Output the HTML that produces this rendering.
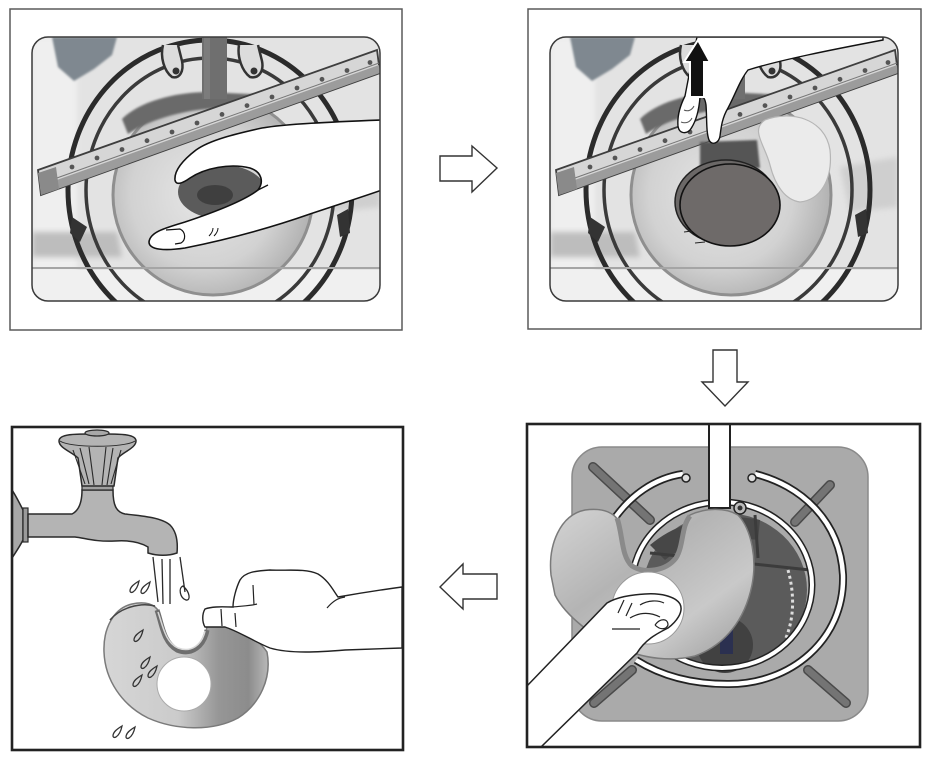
<!DOCTYPE html>
<html><head><meta charset="utf-8"><style>
html,body{margin:0;padding:0;background:#fff;width:930px;height:764px;overflow:hidden}
svg{display:block}
</style></head><body>
<svg width="930" height="764" viewBox="0 0 930 764" xmlns="http://www.w3.org/2000/svg">
<defs>
 <clipPath id="c1"><rect x="32" y="37" width="348" height="264" rx="16"/></clipPath>
 <clipPath id="c2"><rect x="550" y="37" width="348" height="264" rx="16"/></clipPath>
 <clipPath id="c3"><rect x="13" y="428" width="389" height="321"/></clipPath>
 <clipPath id="c4"><rect x="528" y="425" width="391" height="321"/></clipPath>
 <filter id="bl" x="-20%" y="-20%" width="140%" height="140%"><feGaussianBlur stdDeviation="3"/></filter>
 <filter id="bl1"><feGaussianBlur stdDeviation="1"/></filter>
 <radialGradient id="disk" cx="0.45" cy="0.5" r="0.6"><stop offset="0" stop-color="#e6e6e6"/><stop offset="0.6" stop-color="#d2d2d2"/><stop offset="1" stop-color="#a9a9a9"/></radialGradient>
 <linearGradient id="f3" x1="0" y1="0" x2="1" y2="0"><stop offset="0" stop-color="#d6d6d6"/><stop offset="0.45" stop-color="#cbcbcb"/><stop offset="0.7" stop-color="#969696"/><stop offset="0.88" stop-color="#8c8c8c"/><stop offset="1" stop-color="#b8b8b8"/></linearGradient>
 <linearGradient id="f4" x1="0" y1="0" x2="1" y2="1"><stop offset="0" stop-color="#d4d4d4"/><stop offset="0.4" stop-color="#b4b4b4"/><stop offset="0.7" stop-color="#c9c9c9"/><stop offset="1" stop-color="#9a9a9a"/></linearGradient>
 <g id="bg">
  <rect width="348" height="264" fill="#e3e3e3"/>
  <rect x="0" y="0" width="45" height="264" fill="#efefef" filter="url(#bl)"/>
  <rect x="0" y="233" width="348" height="31" fill="#f0f0f0"/>
  <path d="M20,0 L85,0 L80,18 L62,32 L42,44 L26,30 Z" fill="#7f8890" filter="url(#bl1)"/>
  <path d="M0,195 L85,195 L90,220 L0,220 Z" fill="#bdbdbd" filter="url(#bl)"/>
  <path d="M290,130 L348,120 L348,170 L300,175 Z" fill="#cfcfcf" filter="url(#bl)"/>
  <ellipse cx="178" cy="153" rx="142" ry="150" fill="none" stroke="#2b2b2b" stroke-width="5"/>
  <ellipse cx="178" cy="153" rx="124" ry="132" fill="none" stroke="#3a3a3a" stroke-width="3.5"/>
  <circle cx="181" cy="158" r="100" fill="url(#disk)" stroke="#8f8f8f" stroke-width="3"/>
  <path d="M90,82 C110,62 150,55 175,55 L235,58 C225,66 210,69 195,71 C160,71 122,80 96,97 Z" fill="#6a6a6a" filter="url(#bl1)"/>
  <rect x="170" y="0" width="25" height="62" fill="#6f6f6f"/>
  <rect x="172" y="0" width="6" height="62" fill="#7c7c7c"/>
  <path d="M131,8 C128,20 132,34 140,40 C148,42 152,34 150,24 L146,8" fill="#dcdcdc" stroke="#333" stroke-width="2.5"/>
  <circle cx="144" cy="34" r="3.5" fill="#333"/>
  <path d="M207,8 C205,20 210,34 218,40 C227,42 232,34 230,24 L226,8" fill="#dcdcdc" stroke="#333" stroke-width="2.5"/>
  <circle cx="222" cy="34" r="3.5" fill="#333"/>
  <line x1="0" y1="231" x2="348" y2="231" stroke="#a5a5a5" stroke-width="2"/>
  <path d="M40,180 L55,190 L48,205 L38,196 Z" fill="#333"/>
  <path d="M305,178 L316,172 L318,196 L308,200 Z" fill="#333"/>
  <path d="M6,133 L345,13 L348,36 L9,158 Z" fill="#d6d6d6" stroke="#3e3e3e" stroke-width="1.8"/>
  <path d="M8,149 L347,28 L348,36 L9,158 Z" fill="#9c9c9c"/>
  <line x1="8" y1="147" x2="347" y2="26" stroke="#777" stroke-width="1"/>
  <path d="M6,136 L24,130 L27,152 L9,158 Z" fill="#8a8a8a"/>
  <g fill="#555">
   <circle cx="40" cy="130" r="2.4"/><circle cx="65" cy="121" r="2.4"/><circle cx="90" cy="112.5" r="2.4"/><circle cx="115" cy="103.7" r="2.4"/><circle cx="140" cy="95" r="2.4"/><circle cx="165" cy="86" r="2.4"/><circle cx="190" cy="77.4" r="2.4"/><circle cx="215" cy="68.6" r="2.4"/><circle cx="240" cy="60" r="2.4"/><circle cx="265" cy="51" r="2.4"/><circle cx="290" cy="42.3" r="2.4"/><circle cx="315" cy="33.5" r="2.4"/><circle cx="338" cy="25.5" r="2.4"/>
  </g>
 </g>
 <path id="drop" d="M0,7 C0,3 4,0 9,-3 C8,2 6,6 3,8 C1,9 0,8 0,7 Z" fill="none" stroke="#333" stroke-width="1.3"/>
</defs>

<!-- Panel 1 -->
<rect x="10" y="9" width="392" height="321" fill="#fff" stroke="#5a5a5a" stroke-width="1.5"/>
<g clip-path="url(#c1)">
 <use href="#bg" x="32" y="37"/>
 <ellipse cx="222" cy="192" rx="44" ry="27" fill="#5b5b5b"/>
 <ellipse cx="215" cy="195" rx="18" ry="10" fill="#3f3f3f"/>
 <path d="M382,120 C330,122 285,124 262,128 C235,134 210,140 196,150 C183,160 174,170 175,180 C176,186 183,183 190,178 C205,168 230,163 250,168 C262,172 264,182 258,190 C245,200 215,212 185,222 C165,228 150,232 149,242 C149,250 165,251 185,248 C225,240 270,228 310,214 C340,204 365,196 382,190 Z" fill="#fff" stroke="#111" stroke-width="1.6"/>
 <path d="M258,190 L268,185" stroke="#111" stroke-width="1.3"/>
 <path d="M166,230 L180,229 C186,232 186,240 181,243 L175,244" fill="none" stroke="#111" stroke-width="1.2"/>
 <path d="M209,236 C212,233 213,231 213,228 M214,236 C217,233 218,231 218,228" fill="none" stroke="#111" stroke-width="1"/>
</g>
<rect x="32" y="37" width="348" height="264" rx="16" fill="none" stroke="#3a3a3a" stroke-width="1.5"/>

<!-- Panel 2 -->
<rect x="528" y="9" width="393" height="320" fill="#fff" stroke="#5a5a5a" stroke-width="1.5"/>
<g clip-path="url(#c2)">
 <use href="#bg" x="550" y="37"/>
 <path d="M765,120 C790,110 825,118 830,150 C833,180 820,200 800,202 C785,200 775,185 770,165 C765,145 750,130 765,120 Z" fill="#ebebeb" stroke="#b5b5b5" stroke-width="1.2"/>
 <path d="M700,142 L757,140 L760,168 L700,170 Z" fill="#555" filter="url(#bl1)"/>
 <ellipse cx="726" cy="202" rx="51" ry="42" fill="#6b6867" stroke="#222" stroke-width="1.5"/>
 <ellipse cx="730" cy="205" rx="50" ry="41" fill="#6e6a69" stroke="#111" stroke-width="1.6"/>
 <path d="M684,232 L692,231 M695,243 L705,242" stroke="#222" stroke-width="1"/>
 <path d="M697,37 L883,37 L883,40 C830,50 780,60 748,70 C740,80 735,95 728,108 C722,118 721,128 720,136 C719,143 712,146 709,140 C706,132 707,118 706,105 C705,98 703,96 700,97 C699,110 696,122 690,130 C686,134 679,134 678,126 C677,115 681,104 685,96 L690,70 Z" fill="#fff" stroke="#111" stroke-width="1.4"/>
 <path d="M684,110 C688,112 692,110 694,106 M681,122 C686,124 690,122 692,118" fill="none" stroke="#555" stroke-width="1"/>
 <path d="M698,40 L710,62 L704,62 L704,97 L690,97 L690,62 L684,62 Z" fill="#111" stroke="#fff" stroke-width="2"/>
</g>
<rect x="550" y="37" width="348" height="264" rx="16" fill="none" stroke="#3a3a3a" stroke-width="1.5"/>

<!-- Arrows -->
<path d="M440,156 L472,156 L472,146 L497,168 L472,192 L472,181 L440,181 Z" fill="#fff" stroke="#333" stroke-width="1.4"/>
<path d="M713,350 L737,350 L737,382 L748,382 L725,406 L702,382 L713,382 Z" fill="#fff" stroke="#333" stroke-width="1.4"/>
<path d="M497,574 L463,574 L463,564 L440,587 L463,609 L463,599 L497,599 Z" fill="#fff" stroke="#333" stroke-width="1.4"/>

<!-- Panel 3 -->
<g clip-path="url(#c3)">
 <rect x="12" y="427" width="391" height="323" fill="#fff"/>
 <path d="M12,490 C16,496 20,504 23,510 L23,540 C20,546 16,552 12,558 Z" fill="#a8a8a8" stroke="#2a2a2a" stroke-width="1.5"/>
 <rect x="23" y="508" width="5" height="34" fill="#9a9a9a" stroke="#2a2a2a" stroke-width="1.2"/>
 <path d="M28,514 L72,514 C78,511 82,504 82,490 L113,490 C113,505 116,512 125,514 C145,516 162,518 170,525 C177,532 178,542 177,553 C168,556 158,556 148,553 L148,547 C140,542 130,540 115,541 C95,542 85,538 75,537 L28,537 Z" fill="#b4b4b4" stroke="#2a2a2a" stroke-width="1.5"/>
 <rect x="82" y="485" width="31" height="5" fill="#a0a0a0" stroke="#2a2a2a" stroke-width="1.2"/>
 <path d="M59,441 C59,433 80,434 97,434 C115,434 136,433 136,441 C136,448 123,452 118,458 L114,486 L82,486 L78,458 C72,452 59,448 59,441 Z" fill="#b4b4b4" stroke="#2a2a2a" stroke-width="1.5"/>
 <path d="M73,450 L85,484 M80,448 L89,484 M89,447 L94,485 M106,447 L102,485 M113,448 L107,485 M121,450 L111,484" stroke="#2a2a2a" stroke-width="1.1" fill="none"/>
 <path d="M60,441 C70,448 125,448 135,441" fill="none" stroke="#2a2a2a" stroke-width="1"/>
 <ellipse cx="97" cy="433" rx="12" ry="3" fill="#a8a8a8" stroke="#2a2a2a" stroke-width="1.2"/>
 <path d="M153,557 L158,602 M162,559 L163,604 M170,559 L170,604 M180,557 L185,592" stroke="#2a2a2a" stroke-width="1.3" fill="none"/>
 <path d="M183,586 C178,588 180,598 186,600 C191,601 190,592 183,586 Z" fill="none" stroke="#2a2a2a" stroke-width="1.3"/>
 <use href="#drop" x="130" y="584"/>
 <use href="#drop" x="141" y="585"/>
 <path d="M104,652 C103,628 114,608 132,604 C145,601 155,604 159,612 C163,624 165,642 178,649 C192,655 203,646 206,632 L208,621 C230,624 255,634 267,652 C272,678 260,704 238,718 C212,732 175,730 148,718 C122,705 105,680 104,652 Z" fill="url(#f3)" stroke="#7a7a7a" stroke-width="1.5"/>
 <path d="M157,610 C162,624 163,642 177,650 C192,656 204,646 207,630" fill="none" stroke="#6e6e6e" stroke-width="5"/>
 <path d="M158,612 C163,626 165,642 178,648 C191,653 202,645 205,631" fill="none" stroke="#d8d8d8" stroke-width="1.5"/>
 <path d="M110,620 C120,608 140,602 155,606" fill="none" stroke="#444" stroke-width="1.5"/>
 <circle cx="184" cy="684" r="27" fill="#fff" stroke="#aaa" stroke-width="1"/>
 <use href="#drop" x="134" y="633"/>
 <use href="#drop" x="141" y="660"/>
 <use href="#drop" x="148" y="669"/>
 <use href="#drop" x="133" y="678"/>
 <use href="#drop" x="113" y="729"/>
 <use href="#drop" x="126" y="730"/>
 <path d="M402,587 C380,590 355,594 338,597 C333,590 328,580 318,574 C305,568 285,571 270,570 C255,571 245,572 240,580 C236,588 233,600 233,607 C225,607 213,606 205,609 C202,614 202,622 205,627 L225,627 C240,632 255,642 270,648 C290,654 320,652 345,650 L402,648 Z" fill="#fff" stroke="#222" stroke-width="1.4"/>
 <path d="M233,607 C240,606 250,606 257,604 M253,585 L254,605 M235,613 L236,627 M327,608 C333,601 338,598 345,597 M221,609 L222,626" fill="none" stroke="#222" stroke-width="1.2"/>
</g>
<rect x="12" y="427" width="391" height="323" fill="none" stroke="#222" stroke-width="2.6"/>

<!-- Panel 4 -->
<g clip-path="url(#c4)">
 <rect x="527" y="424" width="393" height="323" fill="#fff"/>
 <rect x="572" y="447" width="296" height="274" rx="30" fill="#aaaaaa" stroke="#8a8a8a" stroke-width="1.5"/>
 <g stroke-linecap="round">
  <g stroke="#4a4a4a" stroke-width="10">
   <line x1="593" y1="467" x2="650" y2="520"/><line x1="830" y1="485" x2="795" y2="522"/>
   <line x1="632" y1="670" x2="594" y2="703"/><line x1="808" y1="670" x2="846" y2="703"/>
  </g>
  <g stroke="#747474" stroke-width="7">
   <line x1="593" y1="467" x2="650" y2="520"/><line x1="830" y1="485" x2="795" y2="522"/>
   <line x1="632" y1="670" x2="594" y2="703"/><line x1="808" y1="670" x2="846" y2="703"/>
  </g>
 </g>
 <ellipse cx="725" cy="590" rx="82" ry="77" fill="#5b5b5b"/>
 <path d="M650,545 C680,520 720,512 760,520 L758,540 C720,535 690,540 665,560 Z" fill="#474747"/>
 <path d="M650,553 L810,570 M755,515 L758,558" stroke="#3c3c3c" stroke-width="3"/>
 <circle cx="725" cy="645" r="28" fill="#414141"/>
 <rect x="720" y="627" width="13" height="27" fill="#2b3050"/>
 <path d="M788,570 C795,595 794,620 785,640" fill="none" stroke="#ddd" stroke-width="3" stroke-dasharray="3 3"/>
 <ellipse cx="722" cy="585" rx="90" ry="83" fill="none" stroke="#222" stroke-width="7"/>
 <ellipse cx="722" cy="585" rx="90" ry="83" fill="none" stroke="#fff" stroke-width="4"/>
 <path d="M755,474 C800,485 840,520 843,575 C845,640 790,685 727,684 C690,684 660,675 636,660" fill="none" stroke="#222" stroke-width="8"/>
 <path d="M755,474 C800,485 840,520 843,575 C845,640 790,685 727,684 C690,684 660,675 636,660" fill="none" stroke="#fff" stroke-width="4.5"/>
 <path d="M683,474 C655,478 630,495 612,522" fill="none" stroke="#222" stroke-width="8"/>
 <path d="M683,474 C655,478 630,495 612,522" fill="none" stroke="#fff" stroke-width="4.5"/>
 <circle cx="752" cy="478" r="4" fill="#ddd" stroke="#222" stroke-width="1.5"/>
 <circle cx="686" cy="478" r="4" fill="#ddd" stroke="#222" stroke-width="1.5"/>
 <rect x="709" y="420" width="21" height="88" fill="#fff" stroke="#222" stroke-width="2"/>
 <circle cx="740" cy="508" r="6" fill="#bbb" stroke="#222" stroke-width="1.5"/>
 <circle cx="740" cy="508" r="2.5" fill="#333"/>
 <path d="M551,575 C548,545 560,515 585,510 C600,508 612,511 618,520 C624,535 622,555 632,565 C645,572 665,570 675,558 C683,545 680,525 690,515 C705,508 725,507 738,515 C752,530 757,560 752,585 C745,620 725,645 695,656 C670,662 645,658 625,650 C595,640 565,615 555,595 Z" fill="url(#f4)" stroke="#7a7a7a" stroke-width="1.5"/>
 <path d="M617,518 C623,535 621,556 632,566 C645,574 666,571 676,558 C684,545 681,527 690,516" fill="none" stroke="#8a8a8a" stroke-width="5"/>
 <circle cx="648" cy="608" r="36" fill="#fff" stroke="#999" stroke-width="1"/>
 <path d="M527,686 L607,603 C617,597 630,595 645,594 C660,593 675,596 680,604 C684,612 676,622 668,628 C656,634 645,640 637,653 L541,747 L527,747 Z" fill="#fff" stroke="#222" stroke-width="1.5"/>
 <path d="M618,613 L624,600 M626,616 L632,603 M630,618 C640,612 650,612 660,617 M655,625 C660,618 668,618 668,625 C666,630 660,630 655,625 M612,629 L640,629 M640,605 C648,600 658,600 664,603" fill="none" stroke="#222" stroke-width="1.2"/>
</g>
<rect x="527" y="424" width="393" height="323" fill="none" stroke="#222" stroke-width="2.6"/>
</svg>
</body></html>
